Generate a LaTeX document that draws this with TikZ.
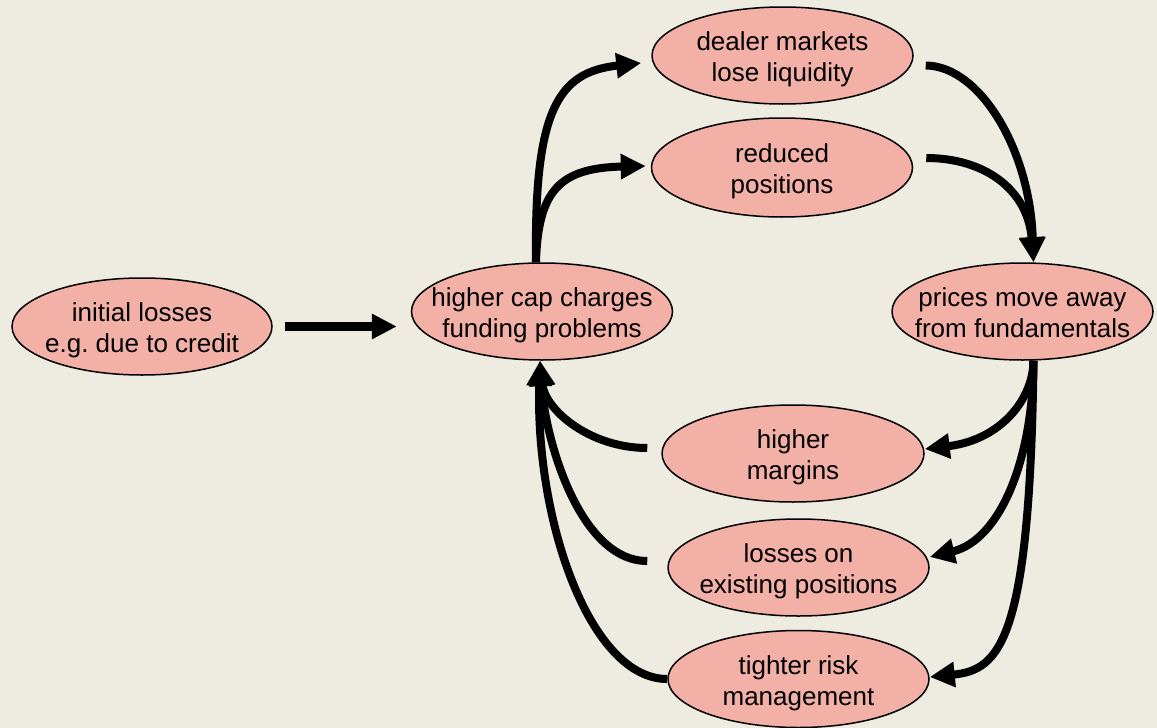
\documentclass[tikz,border=0pt]{standalone}
\usepackage{fontspec}
\setmainfont{Liberation Sans}
\usetikzlibrary{arrows.meta,shapes.geometric,calc}
\definecolor{bgc}{HTML}{EEECE1}
\definecolor{elc}{HTML}{F3B0A6}
\newcommand{\cl}[1]{\makebox[0pt]{#1\rule[-5.5pt]{0pt}{5.5pt}}}
\newcommand{\fl}[1]{\makebox[0pt]{\rule{0pt}{27pt}#1}}
\begin{document}
\begin{tikzpicture}[x=1pt,y=-1pt,
  el/.style={ellipse, draw=black, line width=1.5pt, fill=elc, inner sep=0pt,
    minimum width=261pt, minimum height=97pt, align=center,
    font=\fontsize{26pt}{31pt}\selectfont},
  arr/.style={line width=8pt, -{Triangle[length=25pt,width=24pt]}}]
\useasboundingbox (0,0) rectangle (1157,728);
\fill[bgc] (0,0) rectangle (1157,728);

\node[el, minimum width=260pt] (init) at (142,326.5) {\fl{initial losses}\\\cl{e.g.\ due to credit}};
\node[el] (hc) at (542,311.5) {\fl{higher cap charges}\\\cl{funding problems}};
\node[el] (dealer) at (782.5,55.5) {\fl{dealer markets}\\\cl{lose liquidity}};
\node[el, minimum height=99pt] (reduced) at (782,167.5) {\fl{reduced}\\\cl{positions}};
\node[el] (prices) at (1022.5,311.5) {\fl{prices move away}\\\cl{from fundamentals}};
\node[el, minimum width=262pt] (margins) at (793,453.5) {\fl{higher}\\\cl{margins}};
\node[el] (losses) at (798.5,567.5) {\fl{losses on}\\\cl{existing positions}};
\node[el] (tighter) at (798.5,679) {\fl{tighter risk}\\\cl{management}};

\draw[arr, line width=9pt, shorten <=12pt, shorten >=14pt] (init.east) -- (init.east -| hc.west);

\draw[arr] ([xshift=-6pt]hc.north) .. controls (534,110) and (558,72) .. ([xshift=-10pt,yshift=-7.5pt]dealer.west);
\draw[arr] ([xshift=-6pt]hc.north) .. controls (538,190) and (560,168) .. ([xshift=-5pt,yshift=1.5pt]reduced.west);

\draw[arr] ([xshift=12pt,yshift=-10pt]dealer.east) .. controls (980,66) and (1030,150) .. ([xshift=11pt]prices.north);
\draw[arr] ([xshift=13pt,yshift=9.5pt]reduced.east) .. controls (985,158) and (1028,190) .. ([xshift=11pt]prices.north);

\draw[arr] ([xshift=11pt]prices.south) .. controls (1033,400) and (1000,440) .. ([yshift=4.5pt]margins.east);
\draw[arr] ([xshift=11pt]prices.south) .. controls (1033,460) and (1000,540) .. ([yshift=10.5pt]losses.east);
\draw[arr] ([xshift=11pt]prices.south) .. controls (1030,640) and (1000,670) .. ([yshift=2pt]tighter.east);

\draw[arr] ([xshift=-14pt,yshift=5.5pt]margins.west) .. controls (590,448) and (545,410) .. ([xshift=-2pt]hc.south);
\draw[arr] ([xshift=-20pt,yshift=6.5pt]losses.west) .. controls (580,561) and (545,440) .. ([xshift=-2pt]hc.south);
\draw[arr] (tighter.west) .. controls (590,679) and (535,520) .. ([xshift=-2pt]hc.south);
\end{tikzpicture}
\end{document}
